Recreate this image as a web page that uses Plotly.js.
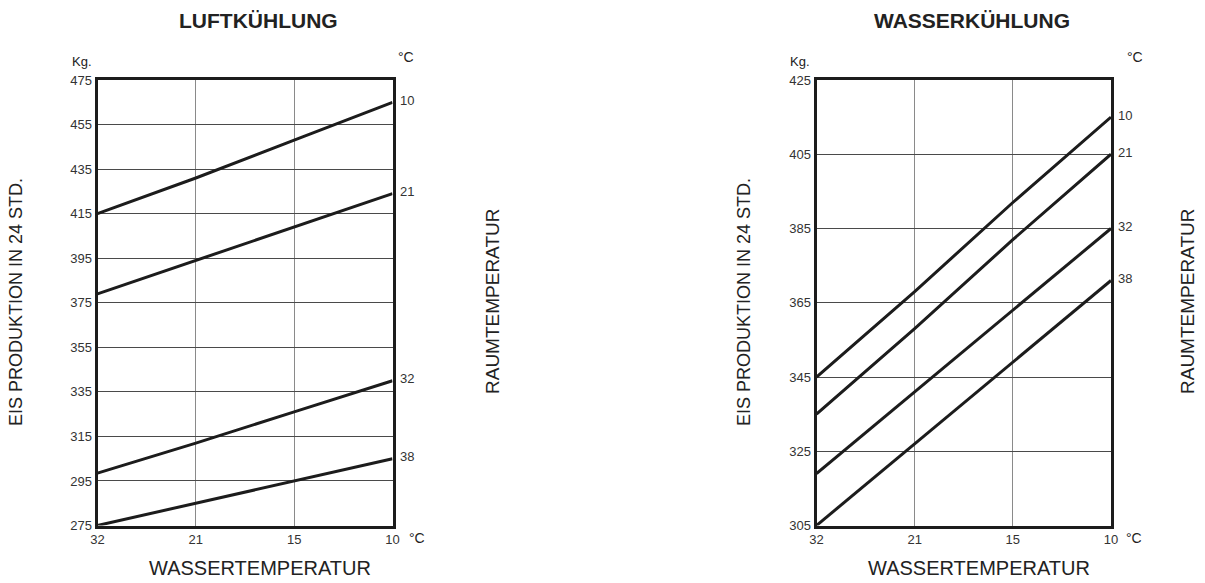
<!DOCTYPE html>
<html>
<head>
<meta charset="utf-8">
<script src="https://cdn.plot.ly/plotly-3.0.1.min.js"></script>
<style>html,body{margin:0;padding:0;background:#fff;}#chart{width:1205px;height:583px;}</style>
</head>
<body>
<div id="chart"></div>
<script>
// ---- data ----
const waterTempLabels = ['32', '21', '15', '10'];          // WASSERTEMPERATUR (°C)
const roomTempLabels = ['10', '21', '32', '38'];            // RAUMTEMPERATUR (°C)

// LUFTKÜHLUNG: ice production (kg / 24h) per room temperature
const air10 = [415, 431, 448, 465];
const air21 = [379, 394, 409, 424];
const air32 = [298.5, 312, 326, 340];
const air38 = [275, 285, 295, 305];
const airTicks = [275, 295, 315, 335, 355, 375, 395, 415, 435, 455, 475];

// WASSERKÜHLUNG
const water10 = [345, 368, 392, 415];
const water21 = [335, 358, 382, 405];
const water32 = [319, 341, 363, 385];
const water38 = [305, 327, 349, 371];
const waterTicks = [305, 325, 345, 365, 385, 405, 425];

// ---- drawing ----
const W = 1205, H = 583;
const px = x => x / W;
const py = y => 1 - y / H;
const FONT = 'Liberation Sans, Arial, Helvetica, sans-serif';
const INK = '#1c1c1c';
const xIdx = waterTempLabels.map((_, i) => i);

const airSeries = [air10, air21, air32, air38];
const waterSeries = [water10, water21, water32, water38];

const traces = [];
airSeries.forEach((s, k) => traces.push({
  type: 'scatter', mode: 'lines', x: xIdx, y: s, xaxis: 'x', yaxis: 'y',
  line: {color: INK, width: 3}, showlegend: false, hoverinfo: 'skip', name: roomTempLabels[k]
}));
waterSeries.forEach((s, k) => traces.push({
  type: 'scatter', mode: 'lines', x: xIdx, y: s, xaxis: 'x2', yaxis: 'y2',
  line: {color: INK, width: 3}, showlegend: false, hoverinfo: 'skip', name: roomTempLabels[k]
}));

function xax(domain) {
  return {
    domain: domain, range: [0, xIdx.length - 1], tickmode: 'array', tickvals: xIdx, ticktext: waterTempLabels,
    showgrid: true, gridcolor: '#8a8a8a', gridwidth: 1, zeroline: false,
    showline: true, linecolor: INK, linewidth: 3, mirror: true, ticks: '',
    tickfont: {family: FONT, size: 13, color: '#333'}, fixedrange: true
  };
}
function yax(domain, ticks, anchor) {
  return {
    domain: domain, range: [ticks[0], ticks[ticks.length - 1]], tickmode: 'array', tickvals: ticks,
    showgrid: true, gridcolor: '#4a4a4a', gridwidth: 1, zeroline: false, anchor: anchor,
    showline: true, linecolor: INK, linewidth: 3, mirror: true, ticks: '',
    tickfont: {family: FONT, size: 13, color: '#333'}, fixedrange: true
  };
}

const yDom = [py(525.5), py(80)];
const annotations = [];
function txt(x, y, text, size, opts) {
  annotations.push(Object.assign({
    xref: 'paper', yref: 'paper', x: px(x), y: py(y), text: text, showarrow: false,
    xanchor: 'center', yanchor: 'middle', font: {family: FONT, size: size, color: '#222'}
  }, opts || {}));
}

// titles
txt(258, 21, '<b>LUFTKÜHLUNG</b>', 21);
txt(972, 21, '<b>WASSERKÜHLUNG</b>', 21);
// unit labels
txt(81.5, 61, 'Kg.', 13);
txt(800, 62, 'Kg.', 13);
txt(405.5, 57, '°C', 14);
txt(1135, 57, '°C', 14);
txt(417, 538, '°C', 14);
txt(1134, 538, '°C', 14);
// axis titles
txt(260, 568, 'WASSERTEMPERATUR', 20);
txt(979, 568, 'WASSERTEMPERATUR', 20);
txt(16, 302, 'EIS PRODUKTION IN 24 STD.', 18, {textangle: -90});
txt(744, 302, 'EIS PRODUKTION IN 24 STD.', 18, {textangle: -90});
txt(492, 302, 'RAUMTEMPERATUR', 19, {textangle: -90});
txt(1187, 302, 'RAUMTEMPERATUR', 19, {textangle: -90});

// room temperature labels at line ends
airSeries.forEach((s, k) => annotations.push({
  xref: 'x', yref: 'y', x: xIdx[xIdx.length - 1], y: s[s.length - 1], text: roomTempLabels[k],
  showarrow: false, xanchor: 'left', yanchor: 'middle', xshift: 5, yshift: 2,
  font: {family: FONT, size: 13, color: '#333'}
}));
waterSeries.forEach((s, k) => annotations.push({
  xref: 'x2', yref: 'y2', x: xIdx[xIdx.length - 1], y: s[s.length - 1], text: roomTempLabels[k],
  showarrow: false, xanchor: 'left', yanchor: 'middle', xshift: 5, yshift: 2,
  font: {family: FONT, size: 13, color: '#333'}
}));

const layout = {
  width: W, height: H, margin: {l: 0, r: 0, t: 0, b: 0},
  paper_bgcolor: '#ffffff', plot_bgcolor: 'rgba(0,0,0,0)',
  showlegend: false,
  xaxis: Object.assign(xax([px(97.5), px(392.5)]), {anchor: 'y'}),
  yaxis: yax(yDom, airTicks, 'x'),
  xaxis2: Object.assign(xax([px(816.5), px(1111)]), {anchor: 'y2'}),
  yaxis2: yax(yDom, waterTicks, 'x2'),
  annotations: annotations
};

Plotly.newPlot('chart', traces, layout, {staticPlot: true, displayModeBar: false});
</script>
</body>
</html>
